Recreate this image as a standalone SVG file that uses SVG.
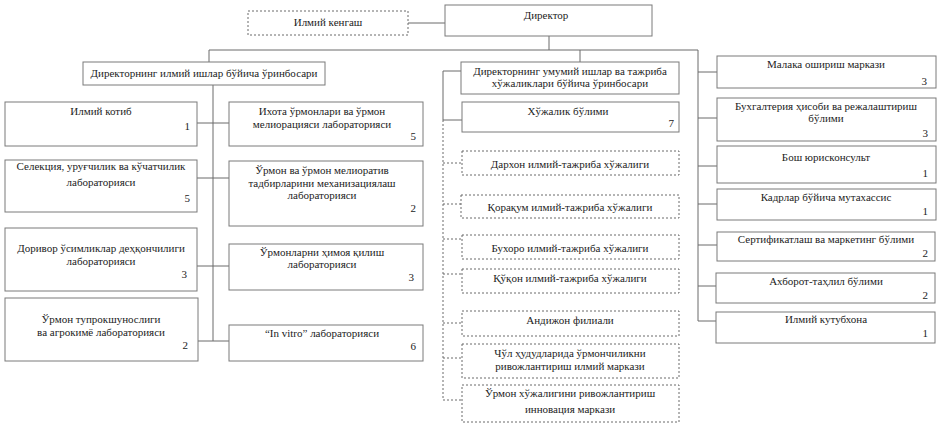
<svg xmlns="http://www.w3.org/2000/svg" width="941" height="429" viewBox="0 0 941 429">
<style>
.b{fill:#fff;stroke:#7a7a7a;stroke-width:1}
.d{fill:#fff;stroke:#6a6a6a;stroke-width:1;stroke-dasharray:2,2}
.t{font-family:"Liberation Serif","Times New Roman",serif;font-size:11px;fill:#222;text-anchor:middle}
.n{font-family:"Liberation Serif","Times New Roman",serif;font-size:11px;fill:#222;text-anchor:end}
.l{fill:none;stroke:#6a6a6a;stroke-width:1}
.ld{fill:none;stroke:#6a6a6a;stroke-width:1;stroke-dasharray:2,2}
</style>
<rect width="941" height="429" fill="#fff"/>
<g id="connectors">
<path class="l" d="M408 23H445"/>
<path class="l" d="M549 36V50M209 50H698M209 50V62M580 50V62M698 50V321"/>
<path class="l" d="M698 72H717M698 118H717M698 166H717M698 204H717M698 245H717M698 286H717M698 321H717"/>
<path class="l" d="M213 85V341M197 123H229M197 178H229M197 266H229M198 341H229"/>
<path class="l" d="M461 71H443V120H462"/>
<path class="ld" d="M443 120V400M443 163H462M443 204H461M443 239H462M443 274H462M443 323H462M443 358H462M443 400H462"/>
</g>
<g id="kengash"><rect class="d" x="248" y="11" width="160" height="24"/><text class="t" x="328" y="26">Илмий кенгаш</text></g>
<g id="director"><rect class="b" x="445" y="5" width="207" height="31"/><text class="t" x="546" y="19">Директор</text></g>
<g id="dep1"><rect class="b" x="83" y="62" width="242" height="23"/><text class="t" x="204" y="77">Директорнинг илмий ишлар бўйича ўринбосари</text></g>
<g id="dep2"><rect class="b" x="461" y="62" width="218" height="32"/><text class="t" x="570" y="75">Директорнинг умумий ишлар ва тажриба</text><text class="t" x="570" y="87">хўжаликлари бўйича ўринбосари</text></g>
<g id="kotib"><rect class="b" x="5" y="102" width="192" height="44"/><text class="t" x="101" y="115">Илмий котиб</text><text class="n" x="190" y="130">1</text></g>
<g id="selek"><rect class="b" x="5" y="160" width="192" height="52"/><text class="t" x="101" y="170">Селекция, уруғчилик ва кўчатчилик</text><text class="t" x="101" y="186">лабораторияси</text><text class="n" x="190" y="202">5</text></g>
<g id="dorivor"><rect class="b" x="5" y="228" width="192" height="63"/><text class="t" x="101" y="252">Доривор ўсимликлар деҳқончилиги</text><text class="t" x="101" y="265">лабораторияси</text><text class="n" x="187" y="278">3</text></g>
<g id="tuproq"><rect class="b" x="5" y="298" width="193" height="63"/><text class="t" x="101" y="323">Ўрмон тупрокшунослиги</text><text class="t" x="101" y="336">ва агрокимё лабораторияси</text><text class="n" x="188" y="349">2</text></g>
<g id="ixota"><rect class="b" x="229" y="102" width="194" height="44"/><text class="t" x="322" y="115">Ихота ўрмонлари ва ўрмон</text><text class="t" x="322" y="128">мелиорацияси лабораторияси</text><text class="n" x="416" y="140">5</text></g>
<g id="mexan"><rect class="b" x="229" y="161" width="194" height="65"/><text class="t" x="322" y="174">Ўрмон ва ўрмон мелиоратив</text><text class="t" x="322" y="187">тадбирларини механизациялаш</text><text class="t" x="322" y="199">лабораторияси</text><text class="n" x="416" y="212">2</text></g>
<g id="ximoya"><rect class="b" x="229" y="244" width="194" height="46"/><text class="t" x="322" y="256">Ўрмонларни ҳимоя қилиш</text><text class="t" x="322" y="268">лабораторияси</text><text class="n" x="414" y="281">3</text></g>
<g id="invitro"><rect class="b" x="229" y="325" width="194" height="36"/><text class="t" x="322" y="337">“In vitro” лабораторияси</text><text class="n" x="416" y="350">6</text></g>
<g id="xojalik"><rect class="b" x="462" y="102" width="217" height="30"/><text class="t" x="568" y="115">Хўжалик бўлими</text><text class="n" x="674" y="127">7</text></g>
<g id="darxon"><rect class="d" x="462" y="151" width="217" height="24"/><text class="t" x="570" y="168">Дархон илмий-тажриба хўжалиги</text></g>
<g id="qoraqum"><rect class="d" x="461" y="195" width="218" height="23"/><text class="t" x="570" y="211">Қорақум илмий-тажриба хўжалиги</text></g>
<g id="buxoro"><rect class="d" x="462" y="235" width="217" height="24"/><text class="t" x="570" y="252">Бухоро илмий-тажриба хўжалиги</text></g>
<g id="kukon"><rect class="d" x="462" y="269" width="217" height="24"/><text class="t" x="570" y="282">Қўқон илмий-тажриба хўжалиги</text></g>
<g id="andijon"><rect class="d" x="462" y="311" width="217" height="25"/><text class="t" x="570" y="324">Андижон филиали</text></g>
<g id="chul"><rect class="d" x="462" y="344" width="217" height="34"/><text class="t" x="570" y="357">Чўл ҳудудларида ўрмончиликни</text><text class="t" x="570" y="370">ривожлантириш илмий маркази</text></g>
<g id="innov"><rect class="d" x="462" y="385" width="217" height="37"/><text class="t" x="570" y="397">Ўрмон хўжалигини ривожлантириш</text><text class="t" x="570" y="413">инновация маркази</text></g>
<g id="malaka"><rect class="b" x="717" y="56" width="219" height="32"/><text class="t" x="826" y="68">Малака ошириш маркази</text><text class="n" x="927" y="85">3</text></g>
<g id="buxgal"><rect class="b" x="717" y="98" width="219" height="43"/><text class="t" x="826" y="110">Бухгалтерия ҳисоби ва режалаштириш</text><text class="t" x="826" y="122">бўлими</text><text class="n" x="928" y="137">3</text></g>
<g id="bosh"><rect class="b" x="717" y="146" width="219" height="37"/><text class="t" x="826" y="161">Бош юрисконсульт</text><text class="n" x="928" y="177">1</text></g>
<g id="kadr"><rect class="b" x="717" y="189" width="219" height="31"/><text class="t" x="826" y="201">Кадрлар бўйича мутахассис</text><text class="n" x="928" y="215">1</text></g>
<g id="sertif"><rect class="b" x="717" y="232" width="218" height="29"/><text class="t" x="826" y="243">Сертификатлаш ва маркетинг бўлими</text><text class="n" x="928" y="257">2</text></g>
<g id="axborot"><rect class="b" x="716" y="273" width="219" height="30"/><text class="t" x="826" y="285">Ахборот-таҳлил бўлими</text><text class="n" x="928" y="299">2</text></g>
<g id="kutub"><rect class="b" x="716" y="312" width="219" height="31"/><text class="t" x="826" y="323">Илмий кутубхона</text><text class="n" x="928" y="337">1</text></g>
</svg>
